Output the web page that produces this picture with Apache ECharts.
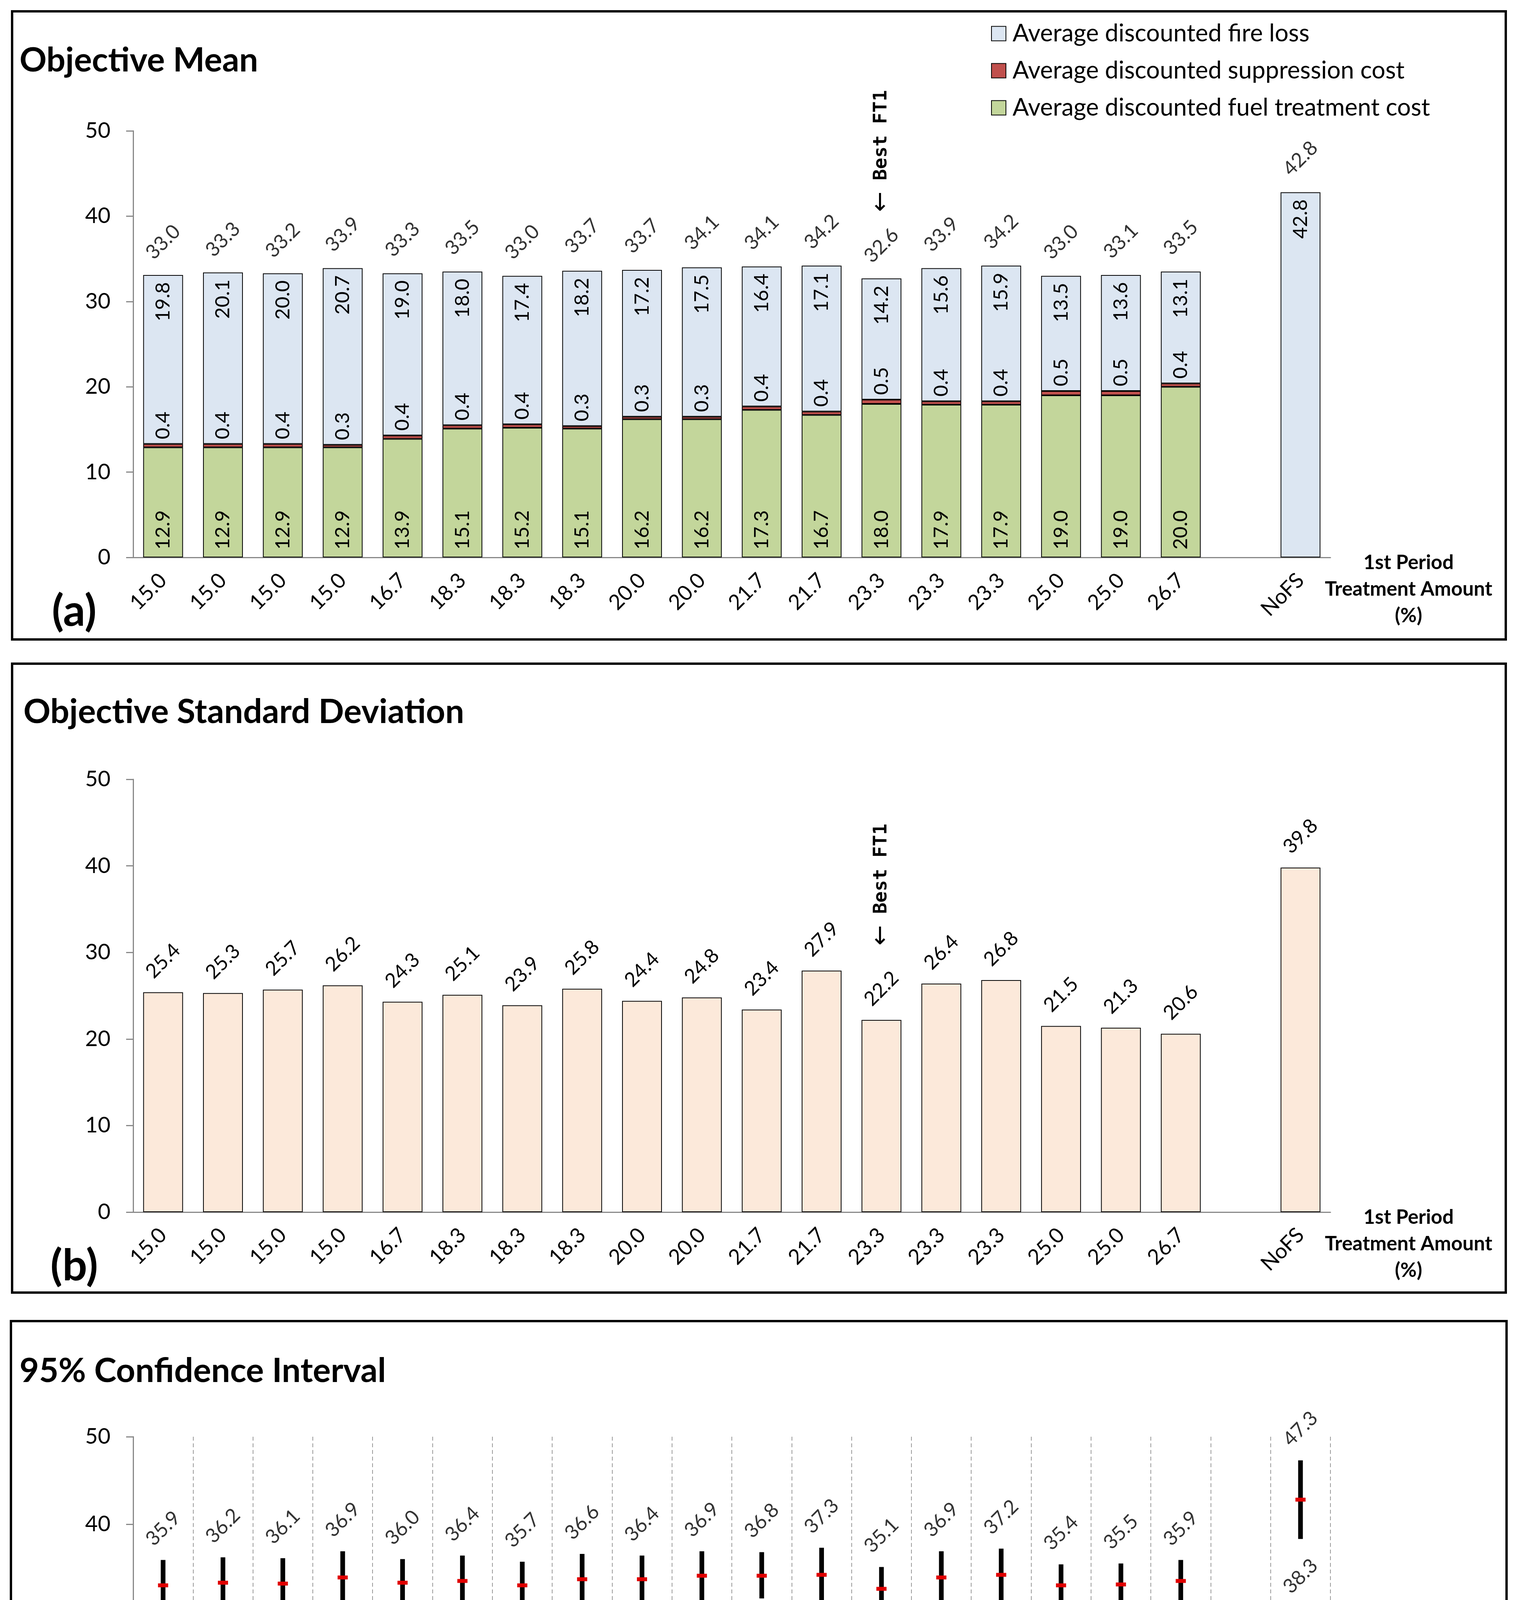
<!DOCTYPE html>
<html><head><meta charset="utf-8">
<script src="https://cdn.jsdelivr.net/npm/echarts@6/dist/echarts.min.js"></script>
<style>html,body{margin:0;padding:0;background:#fff}#c{width:3895px;height:5035px}</style>
</head><body><div id="c"></div>
<script>
// ---------- data ----------
const categories = ['15.0','15.0','15.0','15.0','16.7','18.3','18.3','18.3','20.0','20.0','21.7','21.7','23.3','23.3','23.3','25.0','25.0','26.7','','NoFS'];
const fuelCost        = [12.9,12.9,12.9,12.9,13.9,15.1,15.2,15.1,16.2,16.2,17.3,16.7,18.0,17.9,17.9,19.0,19.0,20.0,null,null];
const suppressionCost = [0.4,0.4,0.4,0.3,0.4,0.4,0.4,0.3,0.3,0.3,0.4,0.4,0.5,0.4,0.4,0.5,0.5,0.4,null,null];
const fireLoss        = [19.8,20.1,20.0,20.7,19.0,18.0,17.4,18.2,17.2,17.5,16.4,17.1,14.2,15.6,15.9,13.5,13.6,13.1,null,42.8];
const meanTotal       = [33.0,33.3,33.2,33.9,33.3,33.5,33.0,33.7,33.7,34.1,34.1,34.2,32.6,33.9,34.2,33.0,33.1,33.5,null,42.8];
const stdDev          = [25.4,25.3,25.7,26.2,24.3,25.1,23.9,25.8,24.4,24.8,23.4,27.9,22.2,26.4,26.8,21.5,21.3,20.6,null,39.8];
const ciHigh          = [35.9,36.2,36.1,36.9,36.0,36.4,35.7,36.6,36.4,36.9,36.8,37.3,35.1,36.9,37.2,35.4,35.5,35.9,null,47.3];
const ciLow           = [30.2,30.5,30.3,31.0,30.5,30.7,30.3,30.7,30.9,31.3,31.5,31.0,30.1,30.9,31.1,30.6,30.7,31.2,null,38.3];
const bestIndex = 12;
const bestMeanAt = 40.5;
const bestStdAt = 30.8;
const seriesNames = ['Average discounted fire loss','Average discounted suppression cost','Average discounted fuel treatment cost'];
const axisName = '1st Period\nTreatment Amount\n(%)';
const panelTitles = ['Objective Mean','Objective Standard Deviation','95% Confidence Interval'];

// ---------- styles ----------
const FONT = 'Lato, "Open Sans", sans-serif';
const AX = '#898989';
const fmt = p => (p.value == null ? '' : Number(Array.isArray(p.value) ? p.value[1] : p.value).toFixed(1));

function xAxisCfg(gi, split) {
  return {
    type: 'category', gridIndex: gi, data: categories,
    axisLine: {show: true, lineStyle: {color: AX, width: 3}},
    axisTick: {show: false},
    axisLabel: {rotate: 45, fontSize: 54, color: '#000', margin: 50, interval: 0, fontFamily: FONT},
    splitLine: {show: split, lineStyle: {color: '#9a9a9a', type: [10, 7], width: 2}},
    name: axisName, nameLocation: 'end', nameGap: 200,
    nameTextStyle: {fontSize: 51, fontWeight: 'bold', color: '#000', lineHeight: 68,
      align: 'center', verticalAlign: 'top', fontFamily: FONT, padding: [-20, 0, 0, 0]}
  };
}
function yAxisCfg(gi) {
  return {
    type: 'value', gridIndex: gi, min: 0, max: 50, interval: 10,
    axisLine: {show: true, lineStyle: {color: AX, width: 3}},
    axisTick: {show: true, length: 18, lineStyle: {color: AX, width: 3}},
    axisLabel: {fontSize: 56, color: '#000', margin: 58, fontFamily: FONT},
    splitLine: {show: false}
  };
}
const valLabel = {fontSize: 51, color: '#000', fontFamily: FONT, formatter: fmt};
const bestLabel = {
  show: true, position: 'inside', rotate: 90, align: 'left', verticalAlign: 'middle',
  formatter: '{a|←}{b| Best FT1}',
  rich: {
    a: {fontSize: 62, fontFamily: '"DejaVu Sans"', color: '#000'},
    b: {fontSize: 48, fontFamily: '"DejaVu Sans Mono"', fontWeight: 'bold', color: '#000'}
  }
};
function bestMark(y) {
  return {symbol: 'rect', symbolSize: 1, itemStyle: {color: 'rgba(0,0,0,0)'}, label: bestLabel,
    data: [{coord: [bestIndex, y]}]};
}
const hidden = {color: 'rgba(0,0,0,0)'};

const ciData = [];
categories.forEach((c, i) => { if (ciLow[i] != null) ciData.push([i, ciLow[i], ciHigh[i], meanTotal[i]]); });

const titleStyle = {fontSize: 86, fontWeight: 'bold', color: '#000', fontFamily: FONT};
const option = {
  animation: false,
  backgroundColor: '#fff',
  textStyle: {fontFamily: FONT},
  title: [
    {text: panelTitles[0], left: 50, top: 112, padding: 0, textStyle: titleStyle},
    {text: panelTitles[1], left: 60, top: 1780, padding: 0, textStyle: titleStyle},
    {text: panelTitles[2], left: 50, top: 3467, padding: 0, textStyle: titleStyle}
  ],
  legend: {
    data: seriesNames, orient: 'vertical', left: 2533, top: 50,
    itemWidth: 37, itemHeight: 37, itemGap: 33, icon: 'rect',
    textStyle: {fontSize: 62, color: '#000', fontFamily: FONT, padding: [0, 0, 0, 12]}
  },
  grid: [
    {left: 341, top: 335, width: 3066, height: 1092},
    {left: 341, top: 1995, width: 3066, height: 1108},
    {left: 341, top: 3678, width: 3066, height: 1119}
  ],
  xAxis: [xAxisCfg(0, false), xAxisCfg(1, false), xAxisCfg(2, true)],
  yAxis: [yAxisCfg(0), yAxisCfg(1), yAxisCfg(2)],
  series: [
    {name: seriesNames[2], type: 'bar', stack: 'mean', xAxisIndex: 0, yAxisIndex: 0, barWidth: 102, data: fuelCost,
      itemStyle: {color: '#C3D69B', borderColor: '#000', borderWidth: 2},
      label: Object.assign({show: true, position: 'insideBottom', rotate: 90, align: 'left', verticalAlign: 'middle', distance: 20}, valLabel)},
    {name: seriesNames[1], type: 'bar', stack: 'mean', xAxisIndex: 0, yAxisIndex: 0, barWidth: 102, data: suppressionCost,
      itemStyle: {color: '#C0504D', borderColor: '#000', borderWidth: 2},
      label: Object.assign({show: true, position: 'top', rotate: 90, align: 'left', verticalAlign: 'middle', distance: 12}, valLabel)},
    {name: seriesNames[0], type: 'bar', stack: 'mean', xAxisIndex: 0, yAxisIndex: 0, barWidth: 102, data: fireLoss,
      itemStyle: {color: '#DCE6F2', borderColor: '#000', borderWidth: 2},
      label: Object.assign({show: true, position: 'insideTop', rotate: 90, align: 'right', verticalAlign: 'middle', distance: 18}, valLabel),
      markPoint: bestMark(bestMeanAt)},
    {name: 'total', type: 'scatter', xAxisIndex: 0, yAxisIndex: 0, data: meanTotal, symbolSize: 1, itemStyle: hidden,
      label: Object.assign({show: true, position: 'top', rotate: 45, align: 'center', verticalAlign: 'middle', distance: 86}, valLabel)},
    {name: 'std', type: 'bar', xAxisIndex: 1, yAxisIndex: 1, barWidth: 102, data: stdDev,
      itemStyle: {color: '#FCE9DA', borderColor: '#000', borderWidth: 2},
      label: Object.assign({show: true, position: 'top', rotate: 45, align: 'center', verticalAlign: 'middle', distance: 80}, valLabel),
      markPoint: bestMark(bestStdAt)},
    {name: 'ci', type: 'custom', xAxisIndex: 2, yAxisIndex: 2, data: ciData, encode: {x: 0, y: [1, 2]},
      renderItem: function (params, api) {
        const i = api.value(0);
        const lo = api.coord([i, api.value(1)]);
        const hi = api.coord([i, api.value(2)]);
        const mid = api.coord([i, api.value(3)]);
        return {type: 'group', children: [
          {type: 'rect', shape: {x: lo[0] - 6, y: hi[1], width: 12, height: lo[1] - hi[1]}, style: {fill: '#000'}},
          {type: 'rect', shape: {x: mid[0] - 13, y: mid[1] - 5, width: 26, height: 10}, style: {fill: '#E00000'}}
        ]};
      }},
    {name: 'ciHigh', type: 'scatter', xAxisIndex: 2, yAxisIndex: 2, data: ciHigh, symbolSize: 1, itemStyle: hidden, z: 5,
      label: Object.assign({show: true, position: 'top', rotate: 45, align: 'center', verticalAlign: 'middle', distance: 80}, valLabel)},
    {name: 'ciLow', type: 'scatter', xAxisIndex: 2, yAxisIndex: 2, data: ciLow, symbolSize: 1, itemStyle: hidden, z: 5,
      label: Object.assign({show: true, position: 'bottom', rotate: 45, align: 'center', verticalAlign: 'middle', distance: 95}, valLabel)}
  ],
  graphic: [
    {type: 'rect', shape: {x: 31, y: 29, width: 3825, height: 1608}, style: {fill: 'none', stroke: '#000', lineWidth: 6}},
    {type: 'rect', shape: {x: 31, y: 1699, width: 3825, height: 1610}, style: {fill: 'none', stroke: '#000', lineWidth: 6}},
    {type: 'rect', shape: {x: 28, y: 3382, width: 3830, height: 1618}, style: {fill: 'none', stroke: '#000', lineWidth: 6}},
    {type: 'text', x: 190, y: 1566, style: {text: '(a)', fontSize: 112, fontWeight: 'bold', fontFamily: FONT, fill: '#000', align: 'center', verticalAlign: 'middle'}},
    {type: 'text', x: 190, y: 3242, style: {text: '(b)', fontSize: 112, fontWeight: 'bold', fontFamily: FONT, fill: '#000', align: 'center', verticalAlign: 'middle'}},
    {type: 'text', x: 185, y: 4925, style: {text: '(c)', fontSize: 112, fontWeight: 'bold', fontFamily: FONT, fill: '#000', align: 'center', verticalAlign: 'middle'}}
  ]
};
const chart = echarts.init(document.getElementById('c'), null, {renderer: 'canvas'});
chart.setOption(option);
</script>
</body></html>
